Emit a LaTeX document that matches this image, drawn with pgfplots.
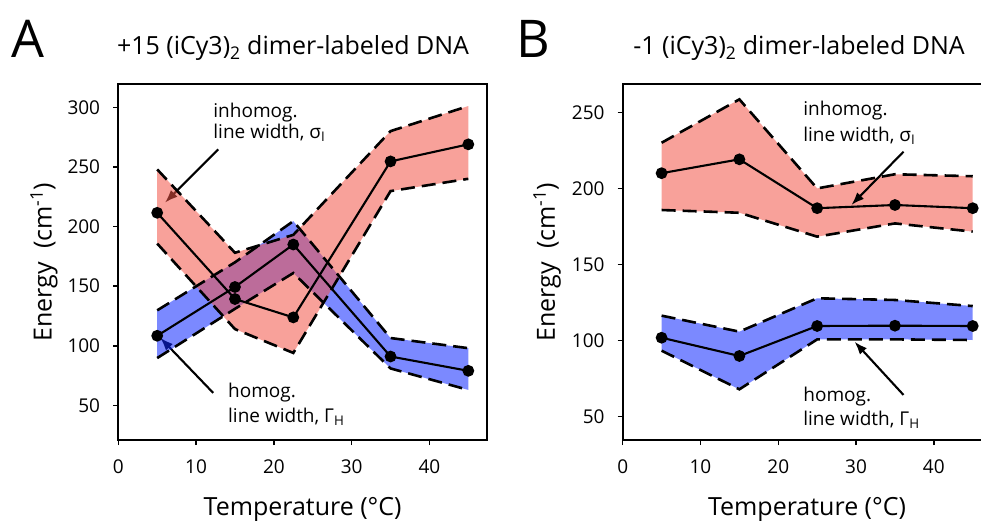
\documentclass[border=0pt]{standalone}
\usepackage{fontspec}
\setmainfont{Open Sans}
\usepackage{pgfplots}
\pgfplotsset{compat=1.18}
\usetikzlibrary{arrows.meta}
\definecolor{redband}{RGB}{242,84,71}
\definecolor{blueband}{RGB}{15,40,255}

\pgfplotstableread{
x   bc     bu     bl    rc     ru     rl
5   108.4  129.7  89.7  211.5  247.9  185.7
15  149.3  170.0  131.0 139.2  178.0  114.0
22.5 184.9 204.5  161.0 123.8  193.0  94.0
35  91.0   106.5  81.0  254.6  280.0  229.7
45  79.0   98.0   63.0  268.9  301.0  240.0
}\dataA
\pgfplotstableread{
x   bc     bu     bl    rc     ru     rl
5   101.9  116.4  93.4  210.0  230.0  185.8
15  89.9   105.9  68.0  219.1  258.5  184.0
25  109.6  127.8  100.8 187.0  200.0  168.3
35  109.8  126.7  100.8 189.1  209.3  177.0
45  109.6  122.7  100.4 187.0  208.0  171.6
}\dataB

\tikzset{
  bandedge/.style={black, line width=2.6bp, dash pattern=on 14bp off 7bp},
  ctrline/.style={black, line width=2.1bp, mark=*, mark size=4.8bp, mark options={solid}},
  ann/.style={font=\fontsize{19bp}{22bp}\selectfont, anchor=base west, inner sep=0pt},
  arr/.style={line width=2.1bp, -{Latex[length=13bp,width=9.5bp]}},
}
\pgfplotsset{
  panel/.style={
    scale only axis, width=368.7bp, height=356bp,
    xmin=0, xmax=47.4,
    axis line style={line width=1.8bp},
    every tick/.style={line width=1.5bp, black},
    tick align=outside, major tick length=5bp,
    tick pos=left,
    xtick={0,10,20,30,40},
    /pgf/number format/assume math mode=true,
    ticklabel style={font=\fontsize{19bp}{22bp}\selectfont},
    xticklabel style={anchor=north, inner sep=0pt, yshift=-15bp},
    yticklabel style={anchor=east, inner sep=0pt, xshift=-13bp},
    xlabel={Temperature (°C)},
    ylabel={Energy~~(cm\textsuperscript{-1})},
    label style={font=\fontsize{25bp}{29bp}\selectfont},
    xlabel style={at={(axis description cs:0.5,-0.2107)}, anchor=base},
    clip=false,
  },
}

\begin{document}
\begin{tikzpicture}
\useasboundingbox (0bp,0bp) rectangle (981bp,522bp);

\node[anchor=base west, inner sep=0pt, font=\fontsize{52bp}{60bp}\selectfont] at (11bp,464bp) {A};
\node[anchor=base, inner sep=0pt, font=\fontsize{25bp}{29bp}\selectfont] at (293bp,467bp) {+15 (iCy3)\textsubscript{2} dimer-labeled DNA};
\node[anchor=base west, inner sep=0pt, font=\fontsize{52bp}{60bp}\selectfont] at (516bp,464bp) {B};
\node[anchor=base, inner sep=0pt, font=\fontsize{25bp}{29bp}\selectfont] at (799bp,467bp) {-1 (iCy3)\textsubscript{2} dimer-labeled DNA};

% Panel A
\begin{axis}[panel, at={(118.3bp,82bp)}, anchor=south west,
  ymin=21, ymax=319.5, ytick={50,100,150,200,250,300},
  ylabel style={at={(axis description cs:-0.2015,0.5)}, anchor=center}]
  \draw[arr] (axis cs:12.85,264.7) -- (axis cs:6.0,220);
  \draw[arr] (axis cs:12.2,60.5) -- (axis cs:5.4,106.7);
  \addplot[draw=none, fill=blueband, fill opacity=0.55] coordinates {
    (5,129.7) (15,170) (22.5,204.5) (35,106.5) (45,98)
    (45,63) (35,81) (22.5,161) (15,131) (5,89.7)};
  \addplot[draw=none, fill=redband, fill opacity=0.55] coordinates {
    (5,247.9) (15,178) (22.5,193) (35,280) (45,301)
    (45,240) (35,229.7) (22.5,94) (15,114) (5,185.7)};
  \addplot[bandedge] table[x=x,y=bu] {\dataA};
  \addplot[bandedge] table[x=x,y=bl] {\dataA};
  \addplot[bandedge] table[x=x,y=ru] {\dataA};
  \addplot[bandedge] table[x=x,y=rl] {\dataA};
  \addplot[ctrline] table[x=x,y=bc] {\dataA};
  \addplot[ctrline] table[x=x,y=rc] {\dataA};
  \node[ann] at (axis cs:12.2,291.4) {inhomog.};
  \node[ann] at (axis cs:12.2,273.7) {line width, σ\textsubscript{I}};
  \node[ann] at (axis cs:14.1,56.5) {homog.};
  \node[ann] at (axis cs:14.1,35.5) {line width, Γ\textsubscript{H}};
\end{axis}

% Panel B
\begin{axis}[panel, at={(622.7bp,82bp)}, anchor=south west,
  ymin=34.7, ymax=268.6, ytick={50,100,150,200,250},
  ylabel style={at={(axis description cs:-0.205,0.5)}, anchor=center}]
  \addplot[draw=none, fill=blueband, fill opacity=0.55] coordinates {
    (5,116.4) (15,105.9) (25,127.8) (35,126.7) (45,122.7)
    (45,100.4) (35,100.8) (25,100.8) (15,68) (5,93.4)};
  \addplot[draw=none, fill=redband, fill opacity=0.55] coordinates {
    (5,230) (15,258.5) (25,200) (35,209.3) (45,208)
    (45,171.6) (35,177) (25,168.3) (15,184) (5,185.8)};
  \addplot[bandedge] table[x=x,y=bu] {\dataB};
  \addplot[bandedge] table[x=x,y=bl] {\dataB};
  \addplot[bandedge] table[x=x,y=ru] {\dataB};
  \addplot[bandedge] table[x=x,y=rl] {\dataB};
  \addplot[ctrline] table[x=x,y=bc] {\dataB};
  \addplot[ctrline] table[x=x,y=rc] {\dataB};
  \draw[arr] (axis cs:36.1,224.1) -- (axis cs:29.4,189.1);
  \draw[arr] (axis cs:36.1,64.3) -- (axis cs:29.8,99.3);
  \node[ann] at (axis cs:23.2,247.6) {inhomog.};
  \node[ann] at (axis cs:23.2,230.7) {line width, σ\textsubscript{I}};
  \node[ann] at (axis cs:23.2,60.3) {homog.};
  \node[ann] at (axis cs:23.2,44.5) {line width, Γ\textsubscript{H}};
\end{axis}
\end{tikzpicture}
\end{document}
